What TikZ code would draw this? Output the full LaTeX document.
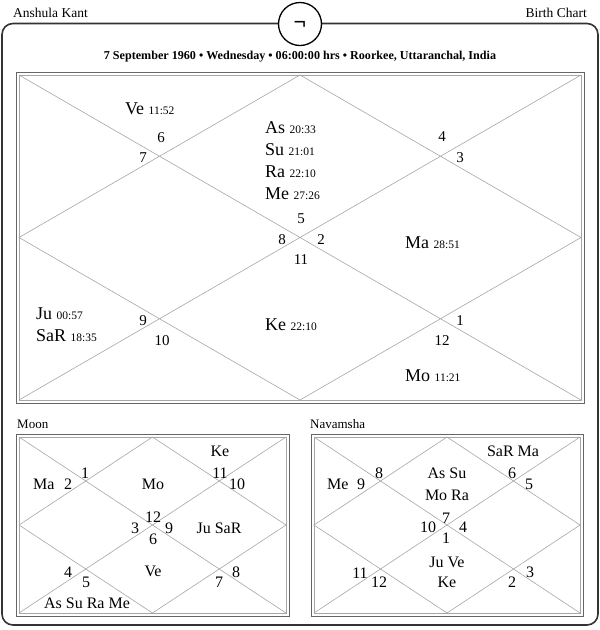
\documentclass[tikz,border=0pt]{standalone}
\usepackage{fontspec}
\setmainfont{Liberation Serif}
\newcommand\dg[1]{{\fontsize{11.5}{13}\selectfont #1}}
\tikzset{
  pl/.style={anchor=base west, inner sep=0pt, font=\fontsize{18}{20}\selectfont},
  hn/.style={anchor=base, inner sep=0pt, font=\fontsize{15}{18}\selectfont},
  sm/.style={anchor=base, inner sep=0pt, font=\fontsize{16}{18}\selectfont},
  chartline/.style={draw=black!35, line width=0.6pt},
  frameout/.style={draw=black!60, line width=0.9pt},
  framein/.style={draw=black!35, line width=0.7pt},
  toplabel/.style={inner sep=0pt, font=\fontsize{13.5}{16}\selectfont},
}
\begin{document}
\begin{tikzpicture}[x=1pt,y=-1pt]
\useasboundingbox (0,0) rectangle (600,630);
% outer border
\draw[draw=black!80, line width=1.6pt, rounded corners=11pt] (2,23.5) rectangle (598,625);
\node[draw=black, line width=1.3pt, fill=white, circle, minimum size=43pt, inner sep=0pt] (emblem) at (300,24) {};
\node[inner sep=0pt, font=\fontsize{22}{22}\selectfont\bfseries] (sym) at (300,25) {¬};
\node[toplabel, anchor=base west] (name) at (13,17) {Anshula Kant};
\node[toplabel, anchor=base east] (kind) at (587,17) {Birth Chart};
\node[inner sep=0pt, anchor=base, font=\fontsize{12.1}{14}\selectfont\bfseries] (sub) at (300,59) {7 September 1960 • Wednesday • 06:00:00 hrs • Roorkee, Uttaranchal, India};

% main chart
\draw[frameout] (16,72) rectangle (584,403);
\draw[framein] (19,75) rectangle (581,400);
\draw[chartline] (19,75) -- (581,400) (581,75) -- (19,400)
  (300,75) -- (581,237.5) -- (300,400) -- (19,237.5) -- cycle;

\node[pl] (ve) at (125,114) {Ve \dg{11:52}};
\node[pl] (as) at (265,133) {As \dg{20:33}};
\node[pl] (su) at (265,155) {Su \dg{21:01}};
\node[pl] (ra) at (265,177) {Ra \dg{22:10}};
\node[pl] (me) at (265,199) {Me \dg{27:26}};
\node[pl] (ma) at (405,248) {Ma \dg{28:51}};
\node[pl] (ju) at (36,319) {Ju \dg{00:57}};
\node[pl] (sa) at (36,341) {SaR \dg{18:35}};
\node[pl] (ke) at (265,330) {Ke \dg{22:10}};
\node[pl] (mo) at (405,381) {Mo \dg{11:21}};

\node[hn] (h6) at (161,142) {6};
\node[hn] (h7) at (143,162) {7};
\node[hn] (h4) at (442,141) {4};
\node[hn] (h3) at (460,162) {3};
\node[hn] (h5) at (301,223) {5};
\node[hn] (h8) at (282,244) {8};
\node[hn] (h2) at (321,244) {2};
\node[hn] (h11) at (301,264) {11};
\node[hn] (h9) at (143,325) {9};
\node[hn] (h10) at (162,345) {10};
\node[hn] (h1) at (460,325) {1};
\node[hn] (h12) at (442,345) {12};

% Moon chart
\node[toplabel, anchor=base west, font=\fontsize{13}{15}\selectfont] (moonlbl) at (17,428) {Moon};
\draw[frameout] (16,434) rectangle (289,616);
\draw[framein] (19,437) rectangle (286,613);
\draw[chartline] (19,437) -- (286,613) (286,437) -- (19,613)
  (152.5,437) -- (286,525) -- (152.5,613) -- (19,525) -- cycle;

\node[sm] (mke) at (220,456) {Ke};
\node[sm] (m1) at (85,478) {1};
\node[sm, anchor=base west] (mma) at (33,489) {Ma};
\node[sm] (m2) at (68,489) {2};
\node[sm] (mmo) at (153,489) {Mo};
\node[sm] (m11) at (220,478) {11};
\node[sm] (m10) at (237,489) {10};
\node[sm] (m12) at (153,522) {12};
\node[sm] (m3) at (135,533) {3};
\node[sm] (m9) at (169,533) {9};
\node[sm] (m6) at (153,544) {6};
\node[sm] (mju) at (219,533) {Ju SaR};
\node[sm] (m4) at (68,577) {4};
\node[sm] (m5) at (86,587) {5};
\node[sm] (mve) at (153,576) {Ve};
\node[sm] (m8) at (236,577) {8};
\node[sm] (m7) at (219,587) {7};
\node[sm] (mas) at (87,608) {As Su Ra Me};

% Navamsha chart
\node[toplabel, anchor=base west, font=\fontsize{13}{15}\selectfont] (navlbl) at (310,428) {Navamsha};
\draw[frameout] (311,434) rectangle (583,616);
\draw[framein] (314,437) rectangle (580,613);
\draw[chartline] (314,437) -- (580,613) (580,437) -- (314,613)
  (447,437) -- (580,525) -- (447,613) -- (314,525) -- cycle;

\node[sm] (nsa) at (513,456) {SaR Ma};
\node[sm] (n8) at (379,478) {8};
\node[sm, anchor=base west] (nme) at (327,489) {Me};
\node[sm] (n9) at (361,489) {9};
\node[sm] (nas) at (447,478) {As Su};
\node[sm] (nmo) at (447,500) {Mo Ra};
\node[sm] (n6) at (512,478) {6};
\node[sm] (n5) at (529,489) {5};
\node[sm] (n7) at (446,523) {7};
\node[sm] (n10) at (428,532) {10};
\node[sm] (n4) at (463,532) {4};
\node[sm] (n1) at (446,543) {1};
\node[sm] (nju) at (447,567) {Ju Ve};
\node[sm] (nke) at (447,587) {Ke};
\node[sm] (n11) at (360,578) {11};
\node[sm] (n12) at (379,587) {12};
\node[sm] (n3) at (530,577) {3};
\node[sm] (n2) at (512,587) {2};
\end{tikzpicture}
\end{document}
